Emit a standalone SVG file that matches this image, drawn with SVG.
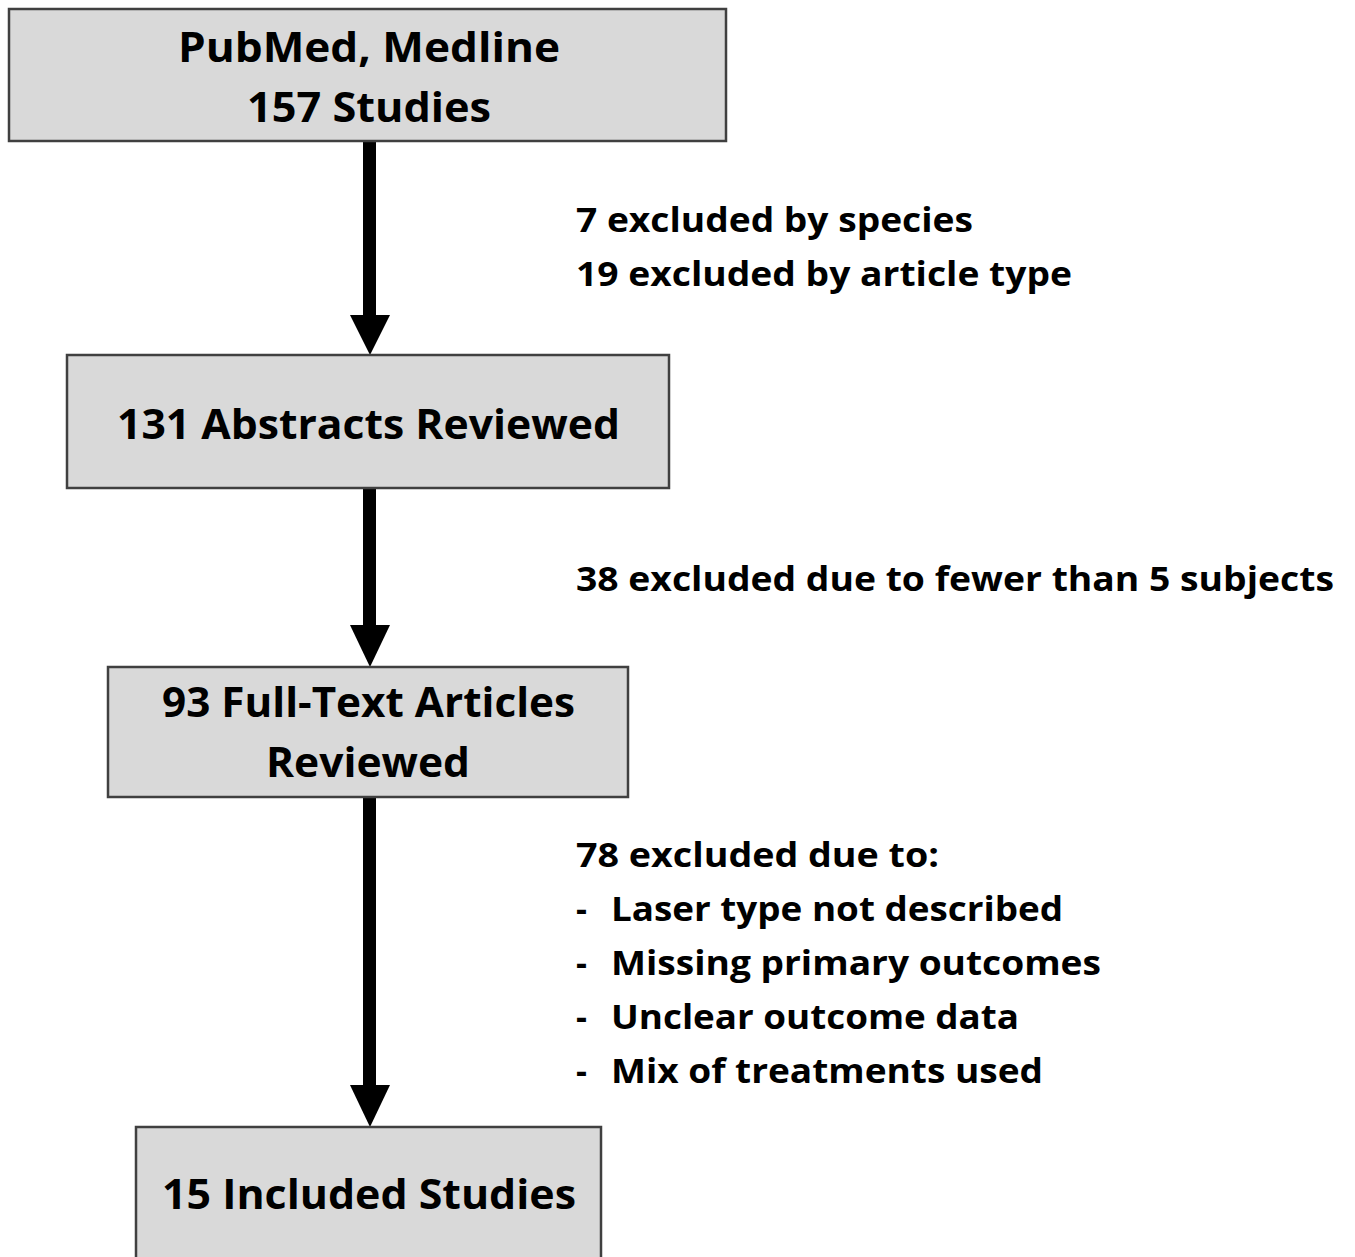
<svg xmlns="http://www.w3.org/2000/svg" width="1355" height="1257" viewBox="0 0 1355 1257">
<style>
.box{fill:#d9d9d9;stroke:#404040;stroke-width:2.5}
.t{font-family:"Open Sans","Liberation Sans",sans-serif;font-weight:bold;fill:#000}
.bt{font-size:42px;text-anchor:middle}
.st{font-size:34px}
.shaft{stroke:#000;stroke-width:13;fill:none}
.head{fill:#000}
</style>
<rect x="0" y="0" width="1355" height="1257" fill="#fff"/>
<g id="connectors">
<line class="shaft" x1="369.5" y1="141" x2="369.5" y2="318"/>
<polygon class="head" points="350,315 390,315 370,355"/>
<line class="shaft" x1="369.5" y1="488" x2="369.5" y2="628"/>
<polygon class="head" points="350,625 390,625 370,667"/>
<line class="shaft" x1="369.5" y1="797" x2="369.5" y2="1088"/>
<polygon class="head" points="350,1085 390,1085 370,1127"/>
</g>
<g id="node1">
<rect class="box" x="9" y="9" width="717" height="132"/>
<text class="t bt" x="369" y="62" textLength="382" lengthAdjust="spacingAndGlyphs">PubMed, Medline</text>
<text class="t bt" x="369" y="122" textLength="244" lengthAdjust="spacingAndGlyphs">157 Studies</text>
</g>
<g id="node2">
<rect class="box" x="67" y="355" width="602" height="133"/>
<text class="t bt" x="368.5" y="439" textLength="503" lengthAdjust="spacingAndGlyphs">131 Abstracts Reviewed</text>
</g>
<g id="node3">
<rect class="box" x="108" y="667" width="520" height="130"/>
<text class="t bt" x="368.5" y="717" textLength="413" lengthAdjust="spacingAndGlyphs">93 Full-Text Articles</text>
<text class="t bt" x="368" y="777" textLength="204" lengthAdjust="spacingAndGlyphs">Reviewed</text>
</g>
<g id="node4">
<rect class="box" x="136" y="1127" width="465" height="140"/>
<text class="t bt" x="369" y="1209" textLength="414" lengthAdjust="spacingAndGlyphs">15 Included Studies</text>
</g>
<g id="labels">
<text class="t st" x="576" y="232" textLength="397" lengthAdjust="spacingAndGlyphs">7 excluded by species</text>
<text class="t st" x="576" y="286" textLength="496" lengthAdjust="spacingAndGlyphs">19 excluded by article type</text>
<text class="t st" x="576" y="591" textLength="758" lengthAdjust="spacingAndGlyphs">38 excluded due to fewer than 5 subjects</text>
<text class="t st" x="576" y="867" textLength="363" lengthAdjust="spacingAndGlyphs">78 excluded due to:</text>
<text class="t st" x="576" y="921">-</text>
<text class="t st" x="611" y="921" textLength="452" lengthAdjust="spacingAndGlyphs">Laser type not described</text>
<text class="t st" x="576" y="975">-</text>
<text class="t st" x="611" y="975" textLength="490" lengthAdjust="spacingAndGlyphs">Missing primary outcomes</text>
<text class="t st" x="576" y="1029">-</text>
<text class="t st" x="611" y="1029" textLength="408" lengthAdjust="spacingAndGlyphs">Unclear outcome data</text>
<text class="t st" x="576" y="1083">-</text>
<text class="t st" x="611" y="1083" textLength="432" lengthAdjust="spacingAndGlyphs">Mix of treatments used</text>
</g>
</svg>
